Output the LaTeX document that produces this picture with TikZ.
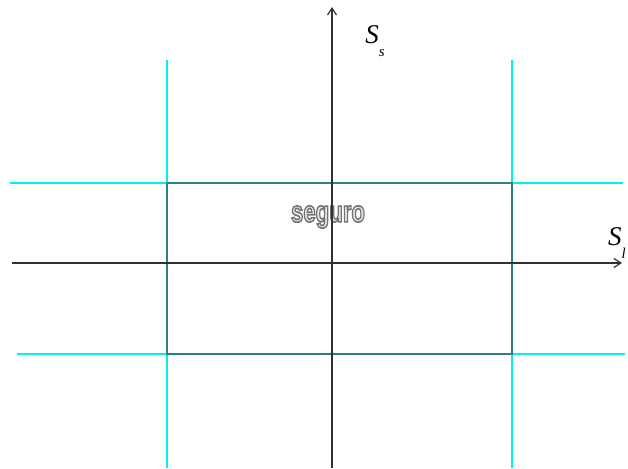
\documentclass[tikz,border=0pt]{standalone}
\usepackage{fontspec}
\setmainfont{Liberation Serif}
\newfontfamily\segfont{Liberation Sans}
\usetikzlibrary{arrows.meta}
\definecolor{axisgray}{HTML}{303030}
\definecolor{rectteal}{HTML}{2F7F7F}
\definecolor{cyanline}{HTML}{00F0F0}
\definecolor{fillgray}{HTML}{E4E4E4}
\tikzset{
  axisline/.style={draw=axisgray, line width=1.8pt, -{Straight Barb[length=7pt,width=9pt,line width=1.2pt]}},
  cyanl/.style={draw=cyanline, line width=1.8pt},
  safebox/.style={draw=rectteal, line width=1.8pt},
  axlabel/.style={font=\fontsize{27}{29}\selectfont\itshape, inner sep=0pt},
  segtxt/.style={font=\segfont\bfseries\fontsize{30}{32}\selectfont, inner sep=0pt, xscale=0.74}
}
\begin{document}
\begin{tikzpicture}[x=1pt,y=-1pt]
\useasboundingbox (0,0) rectangle (628,468);
% cyan grid lines
\coordinate (v1t) at (167,60);  \coordinate (v1b) at (167,468);
\coordinate (v2t) at (512,60);  \coordinate (v2b) at (512,468);
\coordinate (h1l) at (10,183);  \coordinate (h1r) at (623,183);
\coordinate (h2l) at (17,354);  \coordinate (h2r) at (625,354);
\draw[cyanl] (v1t) -- (v1b);
\draw[cyanl] (v2t) -- (v2b);
\draw[cyanl] (h1l) -- (h1r);
\draw[cyanl] (h2l) -- (h2r);
% safe rectangle
\coordinate (r1) at (167,183);
\coordinate (r2) at (512,354);
\draw[safebox] (r1) rectangle (r2);
% outlined text
\node[segtxt, text=fillgray] (seg) at (328,217) {\special{pdf:literal direct 2 Tr 1.6 w 0.45 G}seguro\special{pdf:literal direct 0 Tr}};
% axes
\coordinate (yb) at (332,468);
\coordinate (yt) at (332,7);
\coordinate (xl) at (12,263);
\coordinate (xr) at (622,263);
\draw[axisline] (yb) -- (yt);
\draw[axisline] (xl) -- (xr);
% labels
\node[axlabel] (ss) at (375,41) {S\raisebox{-1.0ex}{\fontsize{15}{16}\selectfont s}};
\node[axlabel, anchor=west] (sl) at (608,243) {S\raisebox{-1.0ex}{\fontsize{15}{16}\selectfont l}};
\end{tikzpicture}
\end{document}
